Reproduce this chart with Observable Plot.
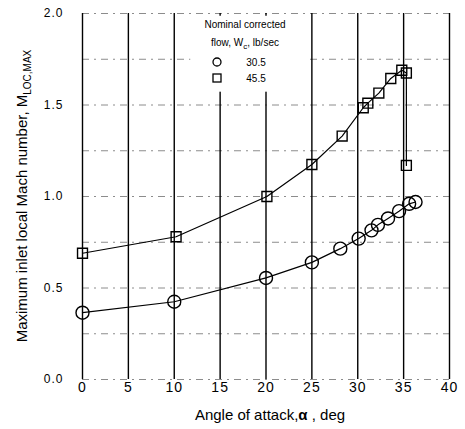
<!DOCTYPE html>
<html>
<head>
<meta charset="utf-8">
<script src="https://cdn.jsdelivr.net/npm/d3@7"></script>
<script src="https://cdn.jsdelivr.net/npm/@observablehq/plot@0.6"></script>
<style>
  html, body { margin: 0; padding: 0; background: #fff; }
  #chart { width: 465px; height: 429px; }
</style>
</head>
<body>
<div id="chart"></div>
<script>
// ---- data ----
const alpha30 = [0, 10, 20, 25, 28.1, 30.1, 31.5, 32.2, 33.3, 34.5, 35.6, 36.3];
const mach30  = [0.365, 0.425, 0.555, 0.64, 0.715, 0.77, 0.815, 0.845, 0.88, 0.92, 0.96, 0.97];

const alpha45 = [0, 10.2, 20.1, 25, 28.3, 30.6, 31.1, 32.3, 33.6, 34.8, 35.3, 35.3];
const mach45  = [0.69, 0.78, 1.0, 1.175, 1.33, 1.485, 1.51, 1.565, 1.645, 1.69, 1.675, 1.17];

const xTicks = [0, 5, 10, 15, 20, 25, 30, 35, 40];
const yTicks = [0, 0.5, 1.0, 1.5, 2.0];
const yGrid  = [0, 0.25, 0.5, 0.75, 1.0, 1.25, 1.5, 1.75, 2.0];

const legendTitle = ["Nominal corrected", "flow, W", "c", ", lb/sec"];
const legendLabels = ["30.5", "45.5"];

const xLabel = "Angle of attack,";
const yLabel = "Maximum inlet local Mach number, M";
const ySub = "LOC,MAX";

const s30 = alpha30.map((a, i) => ({a, m: mach30[i]}));
const s45 = alpha45.map((a, i) => ({a, m: mach45[i]}));

const font = "'Liberation Sans', Arial, Helvetica, sans-serif";

const chart = Plot.plot({
  width: 465,
  height: 429,
  marginLeft: 82,
  marginRight: 16,
  marginTop: 13,
  marginBottom: 50,
  style: {fontFamily: font, background: "#fff", color: "#000"},
  x: {domain: [0, 40]},
  y: {domain: [0, 2]},
  marks: [
    Plot.ruleY(yGrid, {stroke: "#8c8c8c", strokeWidth: 1, strokeDasharray: "7,5,2,5"}),
    Plot.ruleX(xTicks, {stroke: "#000", strokeWidth: 1.4}),
    // legend box background
    Plot.rect([0], {x1: 11.8, x2: 24.4, y1: 1.57, y2: 1.985, fill: "#fff"}),
    Plot.line(s45, {x: "a", y: "m", stroke: "#000", strokeWidth: 1.2}),
    Plot.line(s30, {x: "a", y: "m", stroke: "#000", strokeWidth: 1.2}),
    Plot.dot(s30, {x: "a", y: "m", r: 6.5, stroke: "#000", strokeWidth: 1.4, fill: "none"}),
    Plot.dot(s45, {x: "a", y: "m", r: 5.6, symbol: "square", stroke: "#000", strokeWidth: 1.4, fill: "none"}),
    Plot.axisX({ticks: xTicks, tickSize: 0, tickPadding: 3, label: null, fontSize: 14, tickFormat: d3.format("d")}),
    Plot.axisY({ticks: yTicks, tickSize: 0, tickPadding: 19, label: null, fontSize: 12, tickFormat: d3.format(".1f")})
  ]
});

document.getElementById("chart").appendChild(chart);

const svg = d3.select(chart);
// axis tick letter spacing like the scanned figure
svg.selectAll("g[aria-label='x-axis tick label'] text, g[aria-label='y-axis tick label'] text")
  .attr("letter-spacing", "1");

// x-axis title
const xt = svg.append("text")
  .attr("x", 270).attr("y", 420)
  .attr("text-anchor", "middle")
  .attr("font-family", font).attr("font-size", 15).attr("fill", "#000");
xt.append("tspan").text(xLabel);
xt.append("tspan").attr("font-weight", "bold").text("α");
xt.append("tspan").text(" , deg");

// y-axis title
const yt = svg.append("text")
  .attr("transform", "translate(27,196) rotate(-90)")
  .attr("text-anchor", "middle")
  .attr("font-family", font).attr("font-size", 15).attr("fill", "#000");
yt.append("tspan").text(yLabel);
yt.append("tspan").attr("font-size", 10).attr("dy", 4).text(ySub);

// legend
const lg = svg.append("g").attr("font-family", font).attr("font-size", 10).attr("fill", "#000");
lg.append("text").attr("x", 245).attr("y", 28).attr("text-anchor", "middle").text(legendTitle[0]);
const l2 = lg.append("text").attr("x", 245).attr("y", 46).attr("text-anchor", "middle");
l2.append("tspan").text(legendTitle[1]);
l2.append("tspan").attr("font-size", 8).attr("dy", 3).text(legendTitle[2]);
l2.append("tspan").attr("dy", -3).text(legendTitle[3]);
lg.append("circle").attr("cx", 217).attr("cy", 62).attr("r", 4).attr("fill", "none").attr("stroke", "#000").attr("stroke-width", 1.3);
lg.append("rect").attr("x", 213).attr("y", 74).attr("width", 8).attr("height", 8).attr("fill", "none").attr("stroke", "#000").attr("stroke-width", 1.3);
lg.append("text").attr("x", 256).attr("y", 66).text(legendLabels[0]);
lg.append("text").attr("x", 256).attr("y", 82).text(legendLabels[1]);
</script>
</body>
</html>
